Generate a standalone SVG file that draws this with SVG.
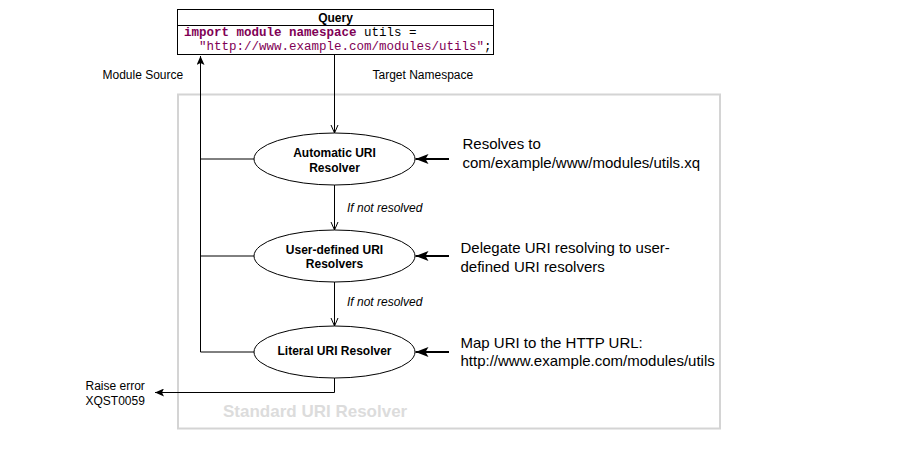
<svg xmlns="http://www.w3.org/2000/svg" width="922" height="466" viewBox="0 0 922 466">
<style>
.ln{stroke:#000;stroke-width:1;fill:none}
.thick{stroke:#000;stroke-width:2;fill:none}
.node{fill:#fff;stroke:#000;stroke-width:1}
.lbl{font-family:"Liberation Sans",Arial,sans-serif;font-size:12px;font-weight:bold;text-anchor:middle;fill:#000}
.note{font-family:"Liberation Sans",Arial,sans-serif;font-size:15px;fill:#000}
.small{font-family:"Liberation Sans",Arial,sans-serif;font-size:12px;fill:#000}
.it{font-family:"Liberation Sans",Arial,sans-serif;font-size:12px;font-style:italic;fill:#000}
.code{font-family:"Liberation Mono","Courier New",monospace;font-size:12.5px;fill:#000}
.kw{fill:#7f0055;font-weight:bold}
.str{fill:#7f0055}
</style>
<defs>
<marker id="fill" markerUnits="userSpaceOnUse" markerWidth="14" markerHeight="10" refX="13" refY="5" orient="auto">
<path d="M0,0 L13,5 L0,10 L3,5 Z" fill="#000"/>
</marker>
<marker id="fillS" markerUnits="userSpaceOnUse" markerWidth="10" markerHeight="8" refX="9" refY="4" orient="auto">
<path d="M0,0 L9,4 L0,8 L2,4 Z" fill="#000"/>
</marker>
<marker id="open" markerUnits="userSpaceOnUse" markerWidth="10" markerHeight="10" refX="8" refY="4" orient="auto">
<path d="M0,0.5 L8,4 L0,7.5" fill="none" stroke="#000" stroke-width="1"/>
</marker>
</defs>

<g id="container">
<rect x="178" y="94.5" width="542" height="334" fill="none" stroke="#d4d4d4" stroke-width="2"/>
<text x="223" y="417" font-family="'Liberation Sans',Arial,sans-serif" font-size="17" font-weight="bold" fill="#dcdcdc">Standard URI Resolver</text>
</g>

<g id="connectors">
<path class="ln" d="M200.5,352 L200.5,56" marker-end="url(#fillS)"/>
<path class="ln" d="M200.5,159 H254.5"/>
<path class="ln" d="M200.5,256 H254.5"/>
<path class="ln" d="M200.5,352 H254.5"/>
<path class="ln" d="M334.5,55 V133" marker-end="url(#open)"/>
<path class="ln" d="M334.5,185 V230" marker-end="url(#open)"/>
<path class="ln" d="M334.5,282 V326" marker-end="url(#open)"/>
<path class="ln" d="M334.5,378 V392.5 H155" marker-end="url(#fillS)"/>
<path class="thick" d="M449,159 H415.5" marker-end="url(#fill)"/>
<path class="thick" d="M449,256 H415.5" marker-end="url(#fill)"/>
<path class="thick" d="M449,352 H415.5" marker-end="url(#fill)"/>
<text class="small" x="102.5" y="79">Module Source</text>
<text class="small" x="372.5" y="79">Target Namespace</text>
<text class="it" x="347" y="212">If not resolved</text>
<text class="it" x="347" y="305.5">If not resolved</text>
<text class="small" x="85.5" y="390">Raise error</text>
<text class="small" x="85.5" y="404.5">XQST0059</text>
</g>

<g id="query">
<rect x="177.5" y="9.5" width="316" height="45" fill="#fff" stroke="#000" stroke-width="1"/>
<line class="ln" x1="177.5" y1="25.5" x2="493.5" y2="25.5"/>
<text class="lbl" x="335.5" y="21.5">Query</text>
<text class="code" x="184" y="35.5"><tspan class="kw">import module namespace</tspan> utils =</text>
<text class="code" x="184" y="49.5" xml:space="preserve">  <tspan class="str">"http://www.example.com/modules/utils"</tspan>;</text>
</g>

<g id="automatic">
<ellipse class="node" cx="334.5" cy="159" rx="80.5" ry="26"/>
<text class="lbl" x="334.5" y="156.5">Automatic URI</text>
<text class="lbl" x="334.5" y="171.5">Resolver</text>
</g>

<g id="userdefined">
<ellipse class="node" cx="334.5" cy="256" rx="80.5" ry="26"/>
<text class="lbl" x="334.5" y="253.5">User-defined URI</text>
<text class="lbl" x="334.5" y="267.5">Resolvers</text>
</g>

<g id="literal">
<ellipse class="node" cx="334.5" cy="352" rx="80.5" ry="26"/>
<text class="lbl" x="334.5" y="355">Literal URI Resolver</text>
</g>

<g id="notes">
<text class="note" x="462.5" y="149">Resolves to</text>
<text class="note" x="462.5" y="167.5">com/example/www/modules/utils.xq</text>
<text class="note" x="460.5" y="253">Delegate URI resolving to user-</text>
<text class="note" x="460.5" y="271.5">defined URI resolvers</text>
<text class="note" x="460.5" y="347.5">Map URI to the HTTP URL:</text>
<text class="note" x="460.5" y="366">http://www.example.com/modules/utils</text>
</g>
</svg>
